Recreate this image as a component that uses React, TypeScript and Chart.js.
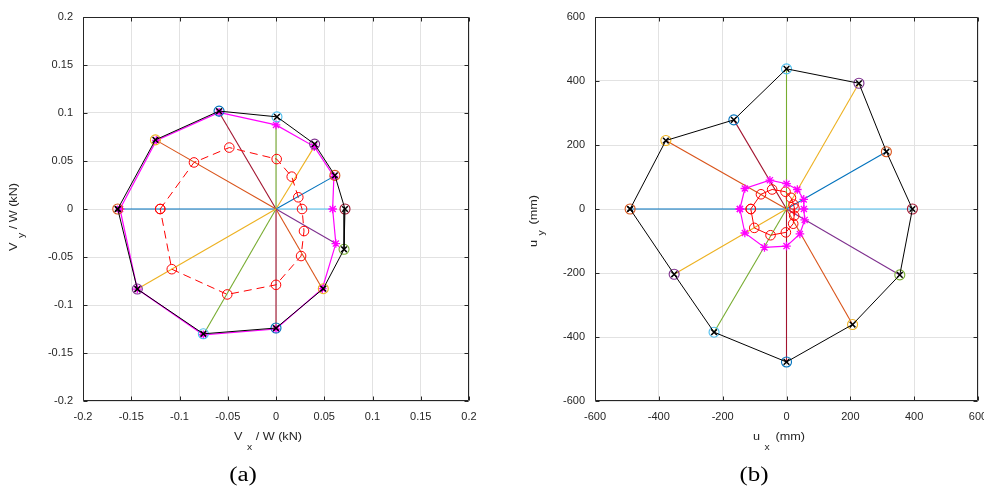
import React, { useEffect, useRef } from 'react';
import { Chart, registerables } from 'chart.js';
Chart.register(...registerables);

const BLUE = '#0072BD';
const ORANGE = '#D95319';
const YELLOW = '#EDB120';
const PURPLE = '#7E2F8E';
const GREEN = '#77AC30';
const LBLUE = '#4DBEEE';
const DRED = '#A2142F';

// loading directions (deg), in the order the points are listed below
const directions = [180, 150, 120, 90, 60, 30, 0, -30, -60, -90, -120, -150];
const rayColors = [BLUE, ORANGE, DRED, GREEN, YELLOW, BLUE, LBLUE, PURPLE, ORANGE, DRED, GREEN, YELLOW];
const markerColors = [ORANGE, YELLOW, BLUE, LBLUE, PURPLE, ORANGE, DRED, GREEN, YELLOW, BLUE, LBLUE, PURPLE];

const ticksA = [-0.2, -0.15, -0.1, -0.05, 0, 0.05, 0.1, 0.15, 0.2];
const ticksB = [-600, -400, -200, 0, 200, 400, 600];

// (a) normalised base shear Vx/W, Vy/W
const shearOuterX = [-0.164, -0.125, -0.059, 0.001, 0.040, 0.061, 0.0715, 0.0705, 0.049, 0.0, -0.0753, -0.1437];
const shearOuterY = [0.0, 0.072, 0.102, 0.096, 0.0676, 0.035, 0.0, -0.042, -0.083, -0.124, -0.130, -0.0834];
const shearMidX = [-0.1617, -0.124, -0.059, 0.0, 0.0397, 0.060, 0.0587, 0.062, 0.048, 0.0, -0.0753, -0.1437];
const shearMidY = [0.0, 0.0715, 0.1007, 0.0876, 0.065, 0.034, 0.0, -0.036, -0.083, -0.125, -0.131, -0.0834];
const shearInnerX = [-0.120, -0.085, -0.0484, 0.0007, 0.0163, 0.0231, 0.027, 0.029, 0.026, 0.0, -0.0505, -0.108];
const shearInnerY = [0.0, 0.0485, 0.064, 0.052, 0.0337, 0.0122, 0.0, -0.023, -0.049, -0.079, -0.089, -0.0627];

// (b) displacements ux, uy (mm)
const dispOuterX = [-490, -378, -165, 0, 227, 313, 394.5, 355, 207, 0, -227, -352];
const dispOuterY = [0, 214, 278.5, 438, 393, 179, 0, -206, -361, -478, -385, -204];
const dispMidX = [-146, -130.5, -52, 0, 34, 54, 54.5, 57, 42, 0, -69, -130.5];
const dispMidY = [0, 64, 90, 79, 61, 30, 0, -34, -78, -116, -120, -75];
const dispInnerX = [-112, -80, -45, -3, 14, 22, 25, 24, 21, -2, -50, -101];
const dispInnerY = [0, 46, 61, 54, 35, 14, 2, -21, -46, -73, -82, -59];

type Pt = { x: number; y: number };
const pts = (xs: number[], ys: number[]): Pt[] => xs.map((x, i) => ({ x, y: ys[i] }));
const closed = (p: Pt[]) => [...p.map((q) => ({ ...q })), { ...p[0] }];

function buildDatasets(outer: Pt[], mid: Pt[], inner: Pt[], rayEnds: Pt[], innerDash: number[]) {
  const ds: any[] = [];
  rayEnds.forEach((p, i) =>
    ds.push({
      label: `ray ${directions[i]}`,
      data: [{ x: 0, y: 0 }, { ...p }],
      borderColor: rayColors[i],
      borderWidth: 1.1,
      pointRadius: 0,
      showLine: true,
    })
  );
  ds.push({
    label: 'inner',
    data: closed(inner),
    borderColor: '#FF0000',
    borderWidth: 1,
    borderDash: innerDash,
    showLine: true,
    pointStyle: 'circle',
    pointRadius: 4.8,
    pointBorderColor: '#FF0000',
    pointBackgroundColor: 'rgba(0,0,0,0)',
    pointBorderWidth: 1,
  });
  ds.push({
    label: 'mid',
    data: closed(mid),
    borderColor: '#FF00FF',
    borderWidth: 1.2,
    showLine: true,
    pointStyle: 'star',
    pointRadius: 4.3,
    pointBorderColor: '#FF00FF',
    pointBorderWidth: 1.3,
  });
  ds.push({
    label: 'markers',
    data: outer.map((q) => ({ ...q })),
    showLine: false,
    pointStyle: 'circle',
    pointRadius: 5,
    pointBorderColor: markerColors,
    pointBackgroundColor: 'rgba(0,0,0,0)',
    pointBorderWidth: 1.1,
  });
  ds.push({
    label: 'outer',
    data: closed(outer),
    borderColor: '#000000',
    borderWidth: 1,
    showLine: true,
    pointStyle: 'crossRot',
    pointRadius: 4,
    pointBorderColor: '#000000',
    pointBorderWidth: 1.5,
  });
  return ds.map((d, i) => ({ ...d, order: -i, tension: 0, fill: false }));
}

type Part = { t?: string; gap?: number; sub?: boolean };
const TXT = '#262626';
const SANS = '"Liberation Sans", Arial, Helvetica, sans-serif';

function drawRich(ctx: CanvasRenderingContext2D, parts: Part[], cx: number, cy: number, rotate: boolean, subDy: number) {
  const size = 11, subSize = 9, stretch = 1.15;
  ctx.save();
  ctx.translate(cx, cy);
  if (rotate) ctx.rotate(-Math.PI / 2);
  ctx.scale(stretch, 1);
  let total = 0;
  const widths = parts.map((p) => {
    if (p.gap !== undefined) { total += p.gap; return p.gap; }
    ctx.font = `${p.sub ? subSize : size}px ${SANS}`;
    const w = ctx.measureText(p.t || '').width;
    total += w;
    return w;
  });
  let x = -total / 2;
  ctx.fillStyle = TXT;
  ctx.textAlign = 'left';
  ctx.textBaseline = 'alphabetic';
  parts.forEach((p, i) => {
    if (p.t) {
      ctx.font = `${p.sub ? subSize : size}px ${SANS}`;
      ctx.fillText(p.t, x, p.sub ? subDy : 0);
    }
    x += widths[i];
  });
  ctx.restore();
}

type PanelCfg = {
  datasets: any[];
  ticks: number[];
  fmt: (v: number) => string;
  yAxisWidth: number;
  rightPad: number;
  xTitle: Part[];
  yTitle: Part[];
  xTitleCx: number;
  yTitleX: number;
  yTitleCy: number;
  label: string;
  labelCx: number;
};

function decorPlugin(p: PanelCfg) {
  return {
    id: 'decor',
    afterDraw(chart: any) {
      const { ctx, chartArea: a, scales } = chart;
      const xs = scales.x, ys = scales.y;
      ctx.save();
      ctx.strokeStyle = TXT;
      ctx.lineWidth = 1;
      const L = Math.round(a.left) + 0.5, R = Math.round(a.right) - 0.5;
      const T = Math.round(a.top) + 0.5, B = Math.round(a.bottom) - 0.5;
      ctx.beginPath();
      ctx.rect(L, T, R - L, B - T);
      ctx.stroke();
      ctx.beginPath();
      p.ticks.forEach((v) => {
        const px = Math.round(xs.getPixelForValue(v)) + 0.5;
        ctx.moveTo(px, B); ctx.lineTo(px, B - 4);
        ctx.moveTo(px, T); ctx.lineTo(px, T + 4);
        const py = Math.round(ys.getPixelForValue(v)) + 0.5;
        ctx.moveTo(L, py); ctx.lineTo(L + 4, py);
        ctx.moveTo(R, py); ctx.lineTo(R - 4, py);
      });
      ctx.stroke();
      drawRich(ctx, p.xTitle, p.xTitleCx, 440, false, 10);
      drawRich(ctx, p.yTitle, p.yTitleX, p.yTitleCy, true, 7);
      ctx.save();
      ctx.translate(p.labelCx, 481);
      ctx.scale(1.25, 1);
      ctx.fillStyle = '#000';
      ctx.font = '20px "Liberation Serif", "Times New Roman", serif';
      ctx.textAlign = 'center';
      ctx.textBaseline = 'alphabetic';
      ctx.fillText(p.label, 0, 0);
      ctx.restore();
      ctx.restore();
    },
  };
}

function makeConfig(p: PanelCfg): any {
  const min = p.ticks[0], max = p.ticks[p.ticks.length - 1];
  const axis = (isX: boolean) => ({
    type: 'linear',
    min,
    max,
    afterBuildTicks: (s: any) => { s.ticks = p.ticks.map((v) => ({ value: v })); },
    afterFit: (s: any) => { if (isX) s.height = 90; else s.width = p.yAxisWidth; },
    ticks: {
      callback: (v: any) => p.fmt(Number(v)),
      color: TXT,
      font: { family: SANS, size: 11 },
      padding: isX ? 9 : 10,
      autoSkip: false,
      maxRotation: 0,
      minRotation: 0,
    },
    grid: { color: '#e2e2e2', lineWidth: 1, drawTicks: false },
    border: { display: false },
  });
  return {
    type: 'scatter',
    data: { datasets: p.datasets },
    options: {
      animation: false,
      responsive: false,
      maintainAspectRatio: false,
      layout: { padding: { left: 0, right: p.rightPad, top: 17, bottom: 0 } },
      plugins: { legend: { display: false }, tooltip: { enabled: false } },
      scales: { x: axis(true), y: axis(false) },
    },
    plugins: [decorPlugin(p)],
  };
}

const fmtA = (v: number) => String(Math.round(v * 100) / 100);
const fmtB = (v: number) => String(Math.round(v));

function Panel({ cfg, left, width }: { cfg: PanelCfg; left: number; width: number }) {
  const ref = useRef<HTMLCanvasElement | null>(null);
  useEffect(() => {
    if (!ref.current) return;
    const chart = new Chart(ref.current, makeConfig(cfg));
    return () => chart.destroy();
  }, []);
  return (
    <canvas
      ref={ref}
      width={width}
      height={491}
      style={{ position: 'absolute', left, top: 0, width, height: 491, display: 'block' }}
    />
  );
}

export default function App() {
  const outerA = pts(shearOuterX, shearOuterY);
  const midA = pts(shearMidX, shearMidY);
  const innerA = pts(shearInnerX, shearInnerY);
  const outerB = pts(dispOuterX, dispOuterY);
  const midB = pts(dispMidX, dispMidY);
  const innerB = pts(dispInnerX, dispInnerY);

  const cfgA: PanelCfg = {
    datasets: buildDatasets(outerA, midA, innerA, midA, [8, 5]),
    ticks: ticksA,
    fmt: fmtA,
    yAxisWidth: 83,
    rightPad: 23,
    xTitle: [{ t: 'V' }, { gap: 4 }, { t: 'x', sub: true }, { gap: 3 }, { t: '/ W (kN)' }],
    yTitle: [{ t: 'V' }, { gap: 4 }, { t: 'y', sub: true }, { gap: 3 }, { t: '/ W (kN)' }],
    xTitleCx: 268,
    yTitleX: 17,
    yTitleCy: 217,
    label: '(a)',
    labelCx: 243,
  };
  const cfgB: PanelCfg = {
    datasets: buildDatasets(outerB, midB, innerB, outerB, []),
    ticks: ticksB,
    fmt: fmtB,
    yAxisWidth: 95,
    rightPad: 22,
    xTitle: [{ t: 'u' }, { gap: 4 }, { t: 'x', sub: true }, { gap: 5 }, { t: '(mm)' }],
    yTitle: [{ t: 'u' }, { gap: 4 }, { t: 'y', sub: true }, { gap: 5 }, { t: '(mm)' }],
    xTitleCx: 279,
    yTitleX: 37,
    yTitleCy: 221,
    label: '(b)',
    labelCx: 254,
  };

  return (
    <div style={{ position: 'absolute', left: 0, top: 0, width: 984, height: 491, overflow: 'hidden', background: '#ffffff' }}>
      <Panel cfg={cfgA} left={0} width={492} />
      <Panel cfg={cfgB} left={500} width={500} />
    </div>
  );
}
